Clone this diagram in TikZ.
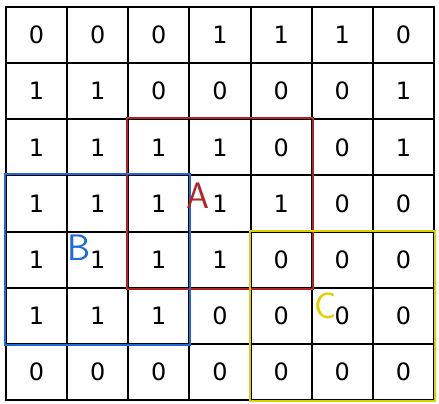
\documentclass[tikz,border=0pt]{standalone}
\usepackage{fontspec}
\setmainfont{DejaVu Sans}
\definecolor{boxred}{RGB}{178,36,36}
\definecolor{boxblue}{RGB}{30,105,220}
\definecolor{boxyellow}{RGB}{222,208,0}
\begin{document}
\begin{tikzpicture}[x=1bp,y=-1bp,
  cell/.style={draw=black,line width=2bp,minimum width=61.14bp,minimum height=56.14bp,inner sep=0pt,font=\fontsize{24}{24}\selectfont},
  region/.style={line width=2bp},
  tag/.style={font=\sffamily\fontsize{37}{37}\selectfont,inner sep=0pt}]
\useasboundingbox (0,0) rectangle (439,403);
\foreach \r/\vals in {0/{0,0,0,1,1,1,0},1/{1,1,0,0,0,0,1},2/{1,1,1,1,0,0,1},3/{1,1,1,1,1,0,0},4/{1,1,1,1,0,0,0},5/{1,1,1,0,0,0,0},6/{0,0,0,0,0,0,0}}{
  \foreach \v [count=\c from 0] in \vals {
    \node[cell] (c-\r-\c) at ({6+61.14*(\c+0.5)},{6+56.14*(\r+0.5)+1}) {\v};
  }
}
\draw[region,boxred] (c-2-2.north west) rectangle (c-4-4.south east);
\draw[region,boxblue] (c-3-0.north west) rectangle (c-5-2.south east);
\draw[region,boxyellow] (c-4-4.north west) rectangle (c-6-6.south east);
\node[tag,text=boxred] (lblA) at (198.5,195.5) {A};
\node[tag,text=boxblue] (lblB) at (79.5,248) {B};
\node[tag,text=boxyellow] (lblC) at (325.5,305.5) {C};
\end{tikzpicture}
\end{document}
